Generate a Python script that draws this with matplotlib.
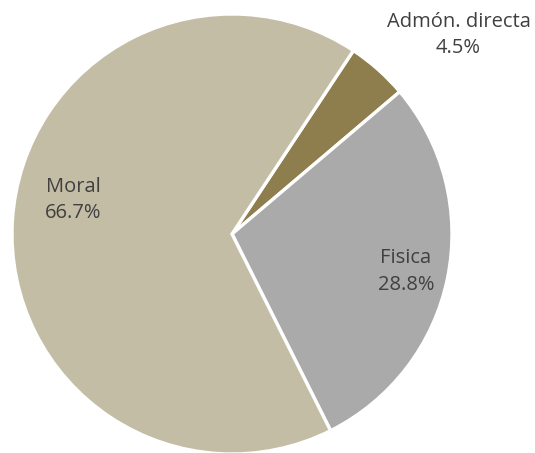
import matplotlib
matplotlib.use("Agg")
import matplotlib.pyplot as plt

# share of each category
labels = ["Admón. directa", "Fisica", "Moral"]
shares = [4.5, 28.8, 66.7]
colors = ["#8E7E4E", "#AAAAAA", "#C4BDA6"]

# label anchor points in axes units (pie radius = 1)
label_xy = [(1.03, 0.905), (0.79, -0.17), (-0.72, 0.155)]

plt.rcParams['font.family'] = ['Open Sans', 'DejaVu Sans']

fig = plt.figure(figsize=(5.35, 4.53), dpi=100)
ax = fig.add_axes([12 / 535, -1 / 453, 440 / 535, 440 / 453])

ax.pie(shares, colors=colors, startangle=56.5, counterclock=False,
       wedgeprops=dict(edgecolor="white", linewidth=2.4))

for lab, val, (x, y) in zip(labels, shares, label_xy):
    ax.text(x, y, f"{lab}\n{val:.1f}%", ha="center", va="center",
            fontsize=14.5, color="#404040", linespacing=1.45, clip_on=False)

ax.set_xlim(-1, 1)
ax.set_ylim(-1, 1)
ax.set_aspect("equal")
ax.axis("off")

fig.savefig("out.png", dpi=100)
